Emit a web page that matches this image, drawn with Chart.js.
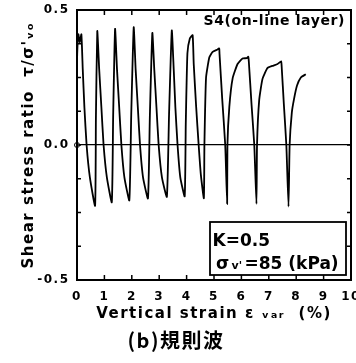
<!DOCTYPE html>
<html>
<head>
<meta charset="utf-8">
<script src="https://cdn.jsdelivr.net/npm/chart.js@4.4.1/dist/chart.umd.min.js"></script>
<style>
  body { margin: 0; background: #fff; }
  canvas { display: block; }
</style>
</head>
<body>
<canvas id="shearChart" width="356" height="363"></canvas>
<script>
// Vertical strain (%), cycle by cycle
const strain = [
    0.00, 0.00, 0.05, 0.10, 0.16,
    0.21, 0.27, 0.35, 0.47, 0.66,
    0.69, 0.74,
    0.81, 0.89, 0.97, 1.09, 1.27,
    1.32, 1.39,
    1.46, 1.54, 1.62, 1.73, 1.91,
    1.98, 2.07,
    2.14, 2.22, 2.30, 2.41, 2.59,
    2.66, 2.75,
    2.82, 2.90, 2.98, 3.10, 3.28,
    3.36, 3.46,
    3.53, 3.59, 3.67, 3.77, 3.93,
    3.97, 4.03, 4.12, 4.22,
    4.26, 4.35, 4.44, 4.52, 4.63,
    4.65, 4.71, 4.83, 4.95, 5.13, 5.19,
    5.20, 5.30, 5.41, 5.48,
    5.49, 5.56, 5.68, 5.86, 6.04, 6.20, 6.25,
    6.27, 6.37, 6.47, 6.55,
    6.57, 6.65, 6.77, 6.95, 7.13, 7.32, 7.45,
    7.47, 7.55, 7.64, 7.72,
    7.76, 7.84, 7.92, 8.03, 8.17, 8.35
]

// Shear stress ratio tau/sigma'vo at the same points
const stressRatio = [
    0.00, 0.30, 0.41, 0.38, 0.41,
    0.28, 0.14, 0.00, -0.12, -0.225,
    0.10, 0.422,
    0.28, 0.14, 0.00, -0.12, -0.212,
    0.11, 0.430,
    0.28, 0.14, 0.00, -0.12, -0.205,
    0.115, 0.436,
    0.28, 0.14, 0.00, -0.12, -0.198,
    0.11, 0.415,
    0.28, 0.14, 0.00, -0.12, -0.192,
    0.115, 0.424,
    0.28, 0.14, 0.00, -0.12, -0.190,
    0.08, 0.34, 0.395, 0.407,
    0.30, 0.14, 0.00, -0.11, -0.197,
    0.00, 0.25, 0.325, 0.345, 0.354, 0.358,
    0.34, 0.17, 0.00, -0.218,
    0.00, 0.142, 0.247, 0.30, 0.32, 0.322, 0.327,
    0.31, 0.15, 0.00, -0.218,
    0.00, 0.167, 0.245, 0.285, 0.293, 0.30, 0.31,
    0.29, 0.15, 0.00, -0.228,
    0.00, 0.12, 0.17, 0.22, 0.25, 0.262
]

// Etiquetas
const yTickValues = [-0.5, 0, 0.5]
const yTickLabels = ['-0.5', '0.0', '0.5']
const xTitle = 'Vertical strain ε ᵥₐᵣ  (%)'
const yTitle = "Shear stress ratio  τ/σ'ᵥₒ"
const caption = '(b)規則波'
const sampleLabel = 'S4(on-line layer)'
const conditionK = 'K=0.5'
const conditionSigma = ['σ', "v'", '=85 (kPa)']

Chart.defaults.font.family = '"DejaVu Sans", sans-serif'
Chart.defaults.font.weight = 'bold'
Chart.defaults.color = '#000'

// Marco, marcas interiores y notas
const frameAndNotes = {
    id: 'frameAndNotes',
    beforeUpdate(chart) { chart.ctx.letterSpacing = '1.5px' },
    beforeDraw(chart) { chart.ctx.letterSpacing = '1.5px' },
    afterDatasetsDraw(chart) {
        const { ctx, chartArea: a, scales: { x, y } } = chart
        ctx.save()
        ctx.strokeStyle = '#000'
        ctx.fillStyle = '#000'

        // inward ticks on all four sides
        ctx.lineWidth = 1.5
        ctx.beginPath()
        y.ticks.forEach(t => {
            const py = y.getPixelForValue(t.value)
            ctx.moveTo(a.left, py); ctx.lineTo(a.left + 4, py)
            ctx.moveTo(a.right, py); ctx.lineTo(a.right - 4, py)
        })
        x.ticks.forEach(t => {
            const px = x.getPixelForValue(t.value)
            ctx.moveTo(px, a.top); ctx.lineTo(px, a.top + 5)
            ctx.moveTo(px, a.bottom); ctx.lineTo(px, a.bottom - 5)
        })
        ctx.stroke()

        // frame
        ctx.lineWidth = 2
        ctx.strokeRect(a.left, a.top, a.right - a.left, a.bottom - a.top)

        // sample name
        ctx.letterSpacing = '0.6px'
        ctx.font = 'bold 14px "DejaVu Sans"'
        ctx.textAlign = 'right'
        ctx.textBaseline = 'alphabetic'
        ctx.fillText(sampleLabel, a.right - 6, a.top + 15)

        // test condition box
        const bx = a.right - 141, by = a.bottom - 58, bw = 136, bh = 53
        ctx.lineWidth = 1.8
        ctx.strokeRect(bx, by, bw, bh)
        ctx.letterSpacing = '0px'
        ctx.textAlign = 'left'
        ctx.font = 'bold 17px "DejaVu Sans"'
        ctx.fillText(conditionK, bx + 2.5, by + 23.5)
        ctx.fillText(conditionSigma[0], bx + 6, by + 46.5)
        ctx.font = 'bold 11px "DejaVu Sans"'
        ctx.fillText(conditionSigma[1], bx + 21.5, by + 46.5)
        ctx.font = 'bold 17px "DejaVu Sans"'
        ctx.fillText(conditionSigma[2], bx + 34.5, by + 46.5)
        ctx.restore()
    }
}

const ctx = document.getElementById('shearChart').getContext('2d')
new Chart(ctx, {
    type: 'line',
    data: {
        datasets: [{
            data: strain.map((s, i) => ({ x: s, y: stressRatio[i] })),
            borderColor: '#000',
            borderWidth: 1.8,
            tension: 0.15,
            pointRadius: c => c.dataIndex === 0 ? 2.5 : 0,
            pointBackgroundColor: '#fff',
            pointBorderColor: '#000',
            pointBorderWidth: 1,
            clip: 4
        }]
    },
    options: {
        responsive: false,
        animation: false,
        layout: { padding: { top: 10, right: 4, bottom: 11, left: 0 } },
        scales: {
            x: {
                type: 'linear',
                min: 0,
                max: 10,
                ticks: { stepSize: 1, padding: 10, autoSkip: false, maxRotation: 0, font: { size: 12 } },
                grid: { drawOnChartArea: false, drawTicks: false },
                border: { display: false },
                title: { display: true, text: xTitle, font: { size: 15 }, padding: { top: 0, bottom: 5 } },
                afterFit(scale) { scale.height = 48; scale.paddingLeft = 0; scale.paddingRight = 0 }
            },
            y: {
                min: -0.5,
                max: 0.5,
                ticks: {
                    stepSize: 0.125,
                    autoSkip: false,
                    padding: 7.5,
                    font: { size: 12 },
                    callback: v => {
                        const i = yTickValues.indexOf(v)
                        return i >= 0 ? yTickLabels[i] : ''
                    }
                },
                grid: {
                    drawTicks: false,
                    lineWidth: 1.2,
                    color: c => (c.tick && c.tick.value === 0) ? '#000' : 'rgba(0,0,0,0)'
                },
                border: { display: false },
                title: { display: true, text: yTitle, font: { size: 15 }, padding: { top: 20.5, bottom: 0 } },
                afterFit(scale) { scale.width = 77; scale.paddingTop = 0; scale.paddingBottom = 0 }
            }
        },
        plugins: {
            legend: { display: false },
            tooltip: { enabled: false },
            title: {
                display: true,
                text: caption,
                position: 'bottom',
                font: { family: '"Noto Sans CJK JP"', size: 20, weight: 'bold' },
                padding: { top: 0, bottom: 0 }
            }
        }
    },
    plugins: [frameAndNotes]
})
</script>
</body>
</html>
